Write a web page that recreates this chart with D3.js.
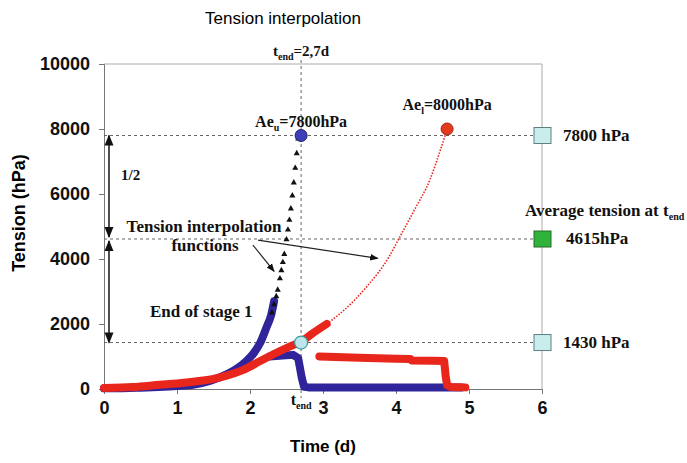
<!DOCTYPE html>
<html>
<head>
<meta charset="utf-8">
<script src="https://cdn.jsdelivr.net/npm/d3@7"></script>
<style>
  body { margin: 0; background: #fff; }
  .axis text { font-family: "Liberation Sans", Arial, sans-serif; font-weight: bold; font-size: 18px; fill: #111; }
  .axis path, .axis line { stroke: #777; }
  .note { font-family: "Liberation Serif", "Times New Roman", serif; font-weight: bold; font-size: 16px; fill: #111; }
</style>
</head>
<body>
<div id="chart"></div>
<script>
// tick values
var xTicks = [0, 1, 2, 3, 4, 5, 6];
var yTicks = [0, 2000, 4000, 6000, 8000, 10000];

// upper sensor (blue, thick) rising part [time d, tension hPa]
var blueTime = [0, 0.25, 0.5, 0.75, 1.0, 1.22, 1.45, 1.68, 1.82, 1.95, 2.05, 2.14, 2.23, 2.29, 2.33];
var blueVal  = [20, 25, 40, 60, 90, 130, 250, 450, 630, 860, 1100, 1420, 1920, 2280, 2700];

// upper sensor after stage 1 (plateau and drop)
var blue2Time = [2.27, 2.4, 2.59, 2.66, 2.69, 2.71, 2.74, 2.8, 3.5, 4.0, 4.5, 4.9];
var blue2Val  = [1000, 1020, 1050, 950, 580, 340, 70, 50, 50, 50, 50, 50];

// lower sensor (red, thick) before t_end
var redTime = [0, 0.4, 0.77, 1.0, 1.25, 1.5, 1.68, 1.9, 2.14, 2.35, 2.59, 2.7, 2.85, 3.05];
var redVal  = [30, 60, 130, 170, 230, 310, 410, 580, 860, 1100, 1350, 1450, 1700, 2000];

// lower sensor plateau after t_end
var red2Time = [2.95, 3.5, 4.0, 4.2, 4.21, 4.5, 4.66, 4.68, 4.7, 4.75, 4.95];
var red2Val  = [1000, 960, 930, 920, 880, 870, 860, 400, 120, 60, 50];

// interpolation of red (thin dotted)
var redFitTime = [3.05, 3.3, 3.6, 3.9, 4.05, 4.25, 4.47, 4.6, 4.7];
var redFitVal  = [2000, 2450, 3150, 4050, 4670, 5500, 6470, 7300, 8000];

// interpolation of blue (triangles)
var triTime = [2.30, 2.33, 2.36, 2.38, 2.41, 2.43, 2.45, 2.47, 2.50, 2.52, 2.54, 2.56, 2.58, 2.60, 2.62, 2.64, 2.66];
var triVal  = [2350, 2600, 2850, 3050, 3400, 3650, 3900, 4150, 4600, 4900, 5200, 5550, 5950, 6350, 6800, 7250, 7700];

// reference levels
var tEnd = 2.7;
var levels = [7800, 4615, 1430];
var levelLabels = ["7800 hPa", "4615hPa", "1430 hPa"];
var levelColors = ["#c9ecec", "#2fb33a", "#c9ecec"];

var width = 687, height = 463;
var svg = d3.select("#chart").append("svg")
  .attr("width", width)
  .attr("height", height);

var xScale = d3.scaleLinear().domain([0, 6]).range([104, 542]);
var yScale = d3.scaleLinear().domain([0, 10000]).range([389, 64]);

//title
svg.append("text")
  .attr("x", 283).attr("y", 24)
  .attr("text-anchor", "middle")
  .style("font-family", "'Liberation Sans', Arial, sans-serif")
  .style("font-size", "17px")
  .text("Tension interpolation");

//plot frame (top and right)
svg.append("path")
  .attr("d", "M" + xScale(0) + "," + yScale(10000) + "H" + xScale(6) + "V" + yScale(0))
  .attr("fill", "none")
  .attr("stroke", "#aaa");

//axes
svg.append("g")
  .attr("class", "axis")
  .attr("transform", "translate(0," + yScale(0) + ")")
  .call(d3.axisBottom(xScale).tickValues(xTicks).tickFormat(d3.format("d"))
    .tickSizeOuter(0).tickSize(5).tickPadding(7));

svg.append("g")
  .attr("class", "axis")
  .attr("transform", "translate(" + xScale(0) + ",0)")
  .call(d3.axisLeft(yScale).tickValues(yTicks).tickFormat(d3.format("d"))
    .tickSizeOuter(0).tickSize(5).tickPadding(9));

//axis labels
svg.append("text")
  .attr("x", 323).attr("y", 452)
  .attr("text-anchor", "middle")
  .style("font-family", "'Liberation Sans', Arial, sans-serif")
  .style("font-weight", "bold").style("font-size", "17px")
  .text("Time (d)");

svg.append("text")
  .attr("transform", "translate(25,213) rotate(-90)")
  .attr("text-anchor", "middle")
  .style("font-family", "'Liberation Sans', Arial, sans-serif")
  .style("font-weight", "bold").style("font-size", "18px")
  .text("Tension (hPa)");

//dotted guide lines
var guides = svg.append("g").attr("stroke", "#666").attr("stroke-dasharray", "3,3").attr("stroke-width", 1);
levels.forEach(function(v) {
  guides.append("line")
    .attr("x1", xScale(0)).attr("x2", xScale(6) - 8)
    .attr("y1", yScale(v)).attr("y2", yScale(v));
});
guides.append("line")
  .attr("x1", xScale(tEnd)).attr("x2", xScale(tEnd))
  .attr("y1", yScale(10000) - 4).attr("y2", yScale(0) + 9);

//line generator
var line = d3.line()
  .x(function(d) { return xScale(d[0]); })
  .y(function(d) { return yScale(d[1]); });

function pairs(t, v) { return t.map(function(d, i) { return [d, v[i]]; }); }

var blue = "#30249a", red = "#e8261c";

// thin red interpolation
svg.append("path")
  .datum(pairs(redFitTime, redFitVal))
  .attr("d", line.curve(d3.curveMonotoneX))
  .attr("fill", "none").attr("stroke", red)
  .attr("stroke-width", 1.6).attr("stroke-dasharray", "1.5,1.5");

// thick measured series
function thick(t, v, col, curve) {
  line.curve(curve);
  svg.append("path")
    .datum(pairs(t, v))
    .attr("d", line)
    .attr("fill", "none").attr("stroke", col)
    .attr("stroke-width", 8).attr("stroke-linejoin", "round").attr("stroke-linecap", "round");
}
thick(blueTime, blueVal, blue, d3.curveMonotoneX);
thick(blue2Time, blue2Val, blue, d3.curveLinear);
thick(redTime, redVal, red, d3.curveMonotoneX);
thick(red2Time, red2Val, red, d3.curveLinear);

// triangle markers
svg.selectAll(".tri")
  .data(pairs(triTime, triVal))
  .enter().append("path")
  .attr("class", "tri")
  .attr("d", d3.symbol().type(d3.symbolTriangle).size(16))
  .attr("transform", function(d) { return "translate(" + xScale(d[0]) + "," + yScale(d[1]) + ")"; })
  .attr("fill", "#111");

// circles: upper end, lower end, t_end point
svg.append("circle")
  .attr("cx", xScale(tEnd)).attr("cy", yScale(7800)).attr("r", 6)
  .attr("fill", "#3d3fb8").attr("stroke", "#1e1e70");
svg.append("circle")
  .attr("cx", xScale(4.7)).attr("cy", yScale(8000)).attr("r", 6)
  .attr("fill", "#e43a1e").attr("stroke", "#a02010");
svg.append("circle")
  .attr("cx", xScale(tEnd)).attr("cy", yScale(1430)).attr("r", 6.5)
  .attr("fill", "#bde6ea").attr("stroke", "#3a9a9a").attr("stroke-width", 1.2);

// level squares and labels
levels.forEach(function(v, i) {
  svg.append("rect")
    .attr("x", xScale(6) - 8).attr("y", yScale(v) - 8)
    .attr("width", 17).attr("height", 16)
    .attr("fill", levelColors[i]).attr("stroke", i == 1 ? "#2a6a2a" : "#5f8080");
  svg.append("text")
    .attr("class", "note")
    .attr("x", xScale(6) + (i == 1 ? 24 : 21)).attr("y", yScale(v) + 5)
    .style("font-size", "17px")
    .text(levelLabels[i]);
});

var avg = svg.append("text").attr("class", "note")
  .attr("x", 525).attr("y", 216).style("font-size", "17px");
avg.append("tspan").text("Average tension at t");
avg.append("tspan").attr("dy", 4).style("font-size", "10px").text("end");

// annotations
function subText(x, y, a, sub, b, size) {
  var t = svg.append("text").attr("class", "note").attr("x", x).attr("y", y)
    .attr("text-anchor", "middle").style("font-size", size + "px");
  t.append("tspan").text(a);
  t.append("tspan").attr("dy", 4).style("font-size", "10px").text(sub);
  t.append("tspan").attr("dy", -4).text(b);
  return t;
}
subText(xScale(tEnd), 56, "t", "end", "=2,7d", 15);
subText(xScale(tEnd), 127, "Ae", "u", "=7800hPa", 16);
subText(xScale(4.7), 110, "Ae", "l", "=8000hPa", 16);
subText(xScale(tEnd), 405, "t", "end", "", 16);

svg.append("text").attr("class", "note").attr("x", 121).attr("y", 180)
  .style("font-size", "15px").text("1/2");
svg.append("text").attr("class", "note").attr("x", 204).attr("y", 232)
  .attr("text-anchor", "middle").style("font-size", "17px").text("Tension interpolation");
svg.append("text").attr("class", "note").attr("x", 205).attr("y", 251)
  .attr("text-anchor", "middle").style("font-size", "17px").text("functions");
svg.append("text").attr("class", "note").attr("x", 150).attr("y", 317)
  .style("font-size", "17px").text("End of stage 1");

// arrow markers
var defs = svg.append("defs");
defs.append("marker").attr("id", "ah")
  .attr("viewBox", "0 0 10 10").attr("refX", 9).attr("refY", 5)
  .attr("markerWidth", 7).attr("markerHeight", 7).attr("orient", "auto-start-reverse")
  .append("path").attr("d", "M0,1L10,5L0,9z").attr("fill", "#111");

var ann = svg.append("g").attr("stroke", "#222").attr("stroke-width", 1.2);
// double arrows
ann.append("line")
  .attr("x1", 109).attr("x2", 109).attr("y1", yScale(7800)).attr("y2", yScale(4615) - 2)
  .attr("marker-start", "url(#ah)").attr("marker-end", "url(#ah)").attr("stroke-width", 1.6);
ann.append("line")
  .attr("x1", 109).attr("x2", 109).attr("y1", yScale(4615) + 2).attr("y2", yScale(1430))
  .attr("marker-start", "url(#ah)").attr("marker-end", "url(#ah)").attr("stroke-width", 1.6);
// pointer arrows to interpolation functions
ann.append("line")
  .attr("x1", xScale(2.04)).attr("y1", yScale(4430))
  .attr("x2", xScale(2.33)).attr("y2", yScale(3620))
  .attr("marker-end", "url(#ah)");
ann.append("line")
  .attr("x1", xScale(2.11)).attr("y1", yScale(4580))
  .attr("x2", xScale(3.75)).attr("y2", yScale(4020))
  .attr("marker-end", "url(#ah)");
</script>
</body>
</html>
